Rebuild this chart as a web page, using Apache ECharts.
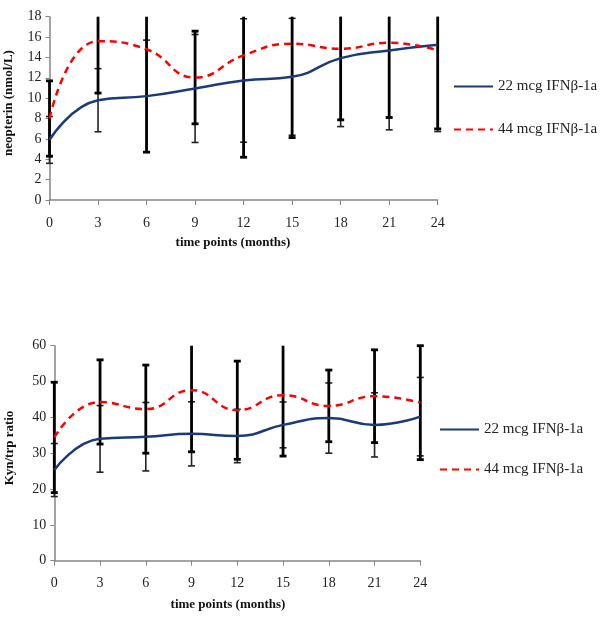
<!DOCTYPE html>
<html><head><meta charset="utf-8">
<script src="https://cdn.jsdelivr.net/npm/echarts@6/dist/echarts.min.js"></script>
<style>html,body{margin:0;padding:0;background:#fff}#c{width:600px;height:621px}</style>
</head><body><div id="c"></div>
<script>
var months = [0, 3, 6, 9, 12, 15, 18, 21, 24];
var seriesNames = ['22 mcg IFNβ-1a', '44 mcg IFNβ-1a'];
// neopterin (nmol/L)
var neo22 = [5.9, 9.8, 10.2, 10.95, 11.74, 12.1, 13.93, 14.69, 15.25];
var neo22sd = [2.3, 3.1, 5.5, 5.3, 6.06, 5.74, 6.72, 7.8, 8.53];
var neo44 = [8.0, 15.6, 14.8, 12.03, 14.2, 15.34, 14.85, 15.44, 14.69];
var neo44sd = [3.7, 5.1, 10.1, 4.55, 10.0, 9.21, 6.98, 7.34, 7.71];
// Kyn/trp ratio
var kyn22 = [25.3, 34.0, 34.6, 35.4, 34.8, 37.9, 39.8, 37.9, 40.2];
var kyn22sd = [7.4, 9.3, 9.55, 8.95, 7.45, 6.4, 9.8, 8.95, 10.95];
var kyn44 = [34.4, 44.3, 42.3, 47.6, 42.0, 46.2, 43.2, 45.9, 44.1];
var kyn44sd = [15.4, 11.75, 12.3, 17.2, 13.7, 17.0, 10.0, 12.95, 15.9];

var FONT = '"Liberation Serif", "Times New Roman", serif';
var AXC = '#868686';
var BLUE = '#1b3a7a', RED = '#ff0000';

function pts(v){ return months.map(function(x,i){ return [x, v[i]]; }); }
function errData(v, sd){ return months.map(function(x,i){ return [x, v[i], sd[i]]; }); }
function errRender(maxV, lw, col, capW){
  return function(params, api){
    var x = api.value(0), m = api.value(1), s = api.value(2);
    var lo = Math.max(m - s, 0), hi = Math.min(m + s, maxV);
    var pLo = api.coord([x, lo]), pHi = api.coord([x, hi]);
    var ch = [{type:'line', shape:{x1:pLo[0], y1:pLo[1], x2:pHi[0], y2:pHi[1]}, style:{stroke:col, lineWidth:lw}}];
    if (m - s >= 0) ch.push({type:'line', shape:{x1:pLo[0]-capW, y1:pLo[1], x2:pLo[0]+capW, y2:pLo[1]}, style:{stroke:col, lineWidth:lw}});
    if (m + s <= maxV) ch.push({type:'line', shape:{x1:pHi[0]-capW, y1:pHi[1], x2:pHi[0]+capW, y2:pHi[1]}, style:{stroke:col, lineWidth:lw}});
    return {type:'group', children: ch};
  };
}
function xAxis(gi){
  return {type:'value', gridIndex:gi, min:0, max:24, interval:3,
    axisLine:{show:true, lineStyle:{color:AXC, width:1.5}},
    axisTick:{show:true, length:5, lineStyle:{color:AXC}},
    splitLine:{show:false},
    axisLabel:{fontFamily:FONT, fontSize:14, color:'#222', margin:16}};
}
function yAxis(gi, max, iv){
  return {type:'value', gridIndex:gi, min:0, max:max, interval:iv,
    axisLine:{show:true, lineStyle:{color:AXC, width:1.5}},
    axisTick:{show:true, length:4, lineStyle:{color:AXC}},
    splitLine:{show:false},
    axisLabel:{fontFamily:FONT, fontSize:14, color:'#222', margin:8}};
}
function lineSeries(name, gi, v, col, dashed){
  return {type:'line', name:name, xAxisIndex:gi, yAxisIndex:gi, data:pts(v), smooth:0.5,
    symbol:'none', z:5, lineStyle:{color:col, width:2.5, type: dashed ? [7,5] : 'solid'}, itemStyle:{color:col}};
}
function errSeries(gi, v, sd, maxV, lw, col){
  return {type:'custom', xAxisIndex:gi, yAxisIndex:gi, data:errData(v, sd), z:2,
    encode:{x:0, y:1}, renderItem: errRender(maxV, lw, col, 3.5), silent:true};
}
function legend(left, top, gap){
  return {orient:'vertical', left:left, top:top, padding:0, itemWidth:39, itemHeight:14, itemGap:gap,
    itemStyle:{opacity:0, borderWidth:0}, data:seriesNames,
    textStyle:{fontFamily:FONT, fontSize:15, color:'#222'}};
}

var chart = echarts.init(document.getElementById('c'), null, {renderer:'canvas'});
chart.setOption({
  animation:false,
  grid:[
    {left:49.5, width:388.2, top:16.7, height:183.3},
    {left:54.3, width:366, top:345.7, height:215}
  ],
  xAxis:[xAxis(0), xAxis(1)],
  yAxis:[yAxis(0, 18, 2), yAxis(1, 60, 10)],
  legend:[legend(453, 79, 28), legend(439, 422, 25)],
  graphic:[
    {type:'text', x:233, y:243, style:{text:'time points (months)', font:'bold 13px ' + FONT, fill:'#111', align:'center', verticalAlign:'middle'}},
    {type:'text', x:228, y:605, style:{text:'time points (months)', font:'bold 13px ' + FONT, fill:'#111', align:'center', verticalAlign:'middle'}},
    {type:'text', x:9, y:103, rotation:Math.PI/2, style:{text:'neopterin (nmol/L)', font:'bold 13px ' + FONT, fill:'#111', align:'center', verticalAlign:'middle'}},
    {type:'text', x:10, y:448, rotation:Math.PI/2, style:{text:'Kyn/trp ratio', font:'bold 13px ' + FONT, fill:'#111', align:'center', verticalAlign:'middle'}}
  ],
  series:[
    errSeries(0, neo22, neo22sd, 18, 1.6, '#222'),
    errSeries(0, neo44, neo44sd, 18, 2.8, '#000'),
    lineSeries(seriesNames[0], 0, neo22, BLUE, false),
    lineSeries(seriesNames[1], 0, neo44, RED, true),
    errSeries(1, kyn22, kyn22sd, 60, 1.6, '#222'),
    errSeries(1, kyn44, kyn44sd, 60, 2.8, '#000'),
    lineSeries(seriesNames[0], 1, kyn22, BLUE, false),
    lineSeries(seriesNames[1], 1, kyn44, RED, true)
  ]
});
</script></body></html>
